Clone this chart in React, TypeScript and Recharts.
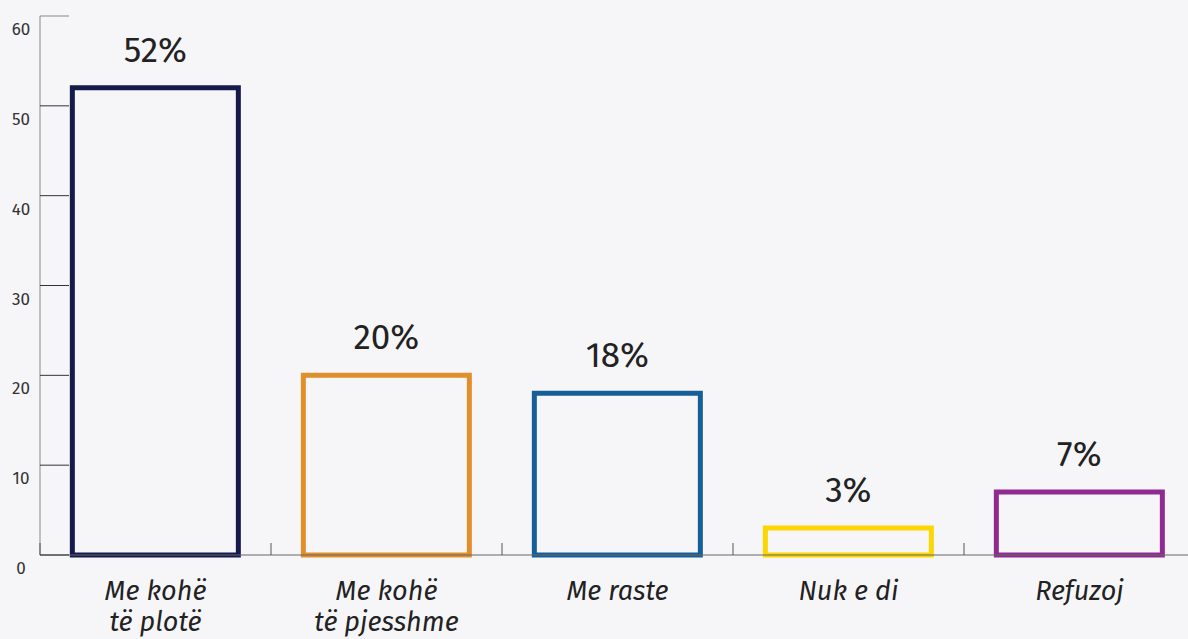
import React from "react";
import { BarChart, Bar, XAxis, YAxis, Cell, LabelList } from "recharts";

const categories = ["Me kohë\ntë plotë", "Me kohë\ntë pjesshme", "Me raste", "Nuk e di", "Refuzoj"];
const values = [52, 20, 18, 3, 7];
const barColors = ["#151a4b", "#e08f2a", "#155e97", "#fcd600", "#8f2a90"];
const yTicks = [0, 10, 20, 30, 40, 50, 60];

const data = categories.map((c, i) => ({ name: c, value: values[i] }));

const CHART_W = 1200;
const CHART_H = 639;
const MARGIN = { top: 16, right: 5, left: 0, bottom: 0 };
const Y_W = 40;
const X_H = 84;
const BAND = (CHART_W - MARGIN.left - MARGIN.right - Y_W) / categories.length;
const FONT = "'Fira Sans', 'Open Sans', sans-serif";

const YTick = (props: any) => {
  const { x, y, payload } = props;
  const top = payload.value === 60;
  return (
    <g>
      <line x1={x} x2={x + 29} y1={y} y2={y} stroke={top ? "#888" : "#333"} strokeWidth={1} />
      <text x={x - 19} y={y + 19} textAnchor="middle" fontSize={17} fill="#333" fontFamily={FONT}>
        {payload.value}
      </text>
    </g>
  );
};

const XTick = (props: any) => {
  const { x, y, payload } = props;
  const lines = String(payload.value).split("\n");
  const bx = x - BAND / 2;
  return (
    <g>
      <line x1={bx} x2={bx} y1={y - 12} y2={y} stroke="#555" strokeWidth={1} />
      <text textAnchor="middle" fontSize={27} fontStyle="italic" fill="#222" fontFamily={FONT}>
        {lines.map((l, i) => (
          <tspan key={i} x={x} y={y + 45 + i * 31}>
            {l}
          </tspan>
        ))}
      </text>
    </g>
  );
};

export default function App() {
  return (
    <div
      style={{
        position: "fixed",
        left: 0,
        top: 0,
        width: 1188,
        height: 639,
        overflow: "hidden",
        background: "#f6f6f9",
      }}
    >
      <BarChart width={CHART_W} height={CHART_H} data={data} margin={MARGIN} barCategoryGap="14%">
        <XAxis
          dataKey="name"
          height={X_H}
          axisLine={{ stroke: "#666", strokeWidth: 1 }}
          tickLine={false}
          tickSize={0}
          tickMargin={0}
          tick={<XTick />}
          interval={0}
        />
        <YAxis
          width={Y_W}
          domain={[0, 60]}
          ticks={yTicks}
          axisLine={{ stroke: "#888", strokeWidth: 1 }}
          tickLine={false}
          tickSize={0}
          tickMargin={0}
          tick={<YTick />}
          interval={0}
        />
        <Bar dataKey="value" fill="none" strokeWidth={5} isAnimationActive={false}>
          {data.map((d, i) => (
            <Cell key={i} stroke={barColors[i]} fill="none" />
          ))}
          <LabelList
            dataKey="value"
            position="top"
            offset={26}
            formatter={(v: any) => `${v}%`}
            fontSize={35}
            fill="#222"
            fontFamily={FONT}
          />
        </Bar>
      </BarChart>
    </div>
  );
}
